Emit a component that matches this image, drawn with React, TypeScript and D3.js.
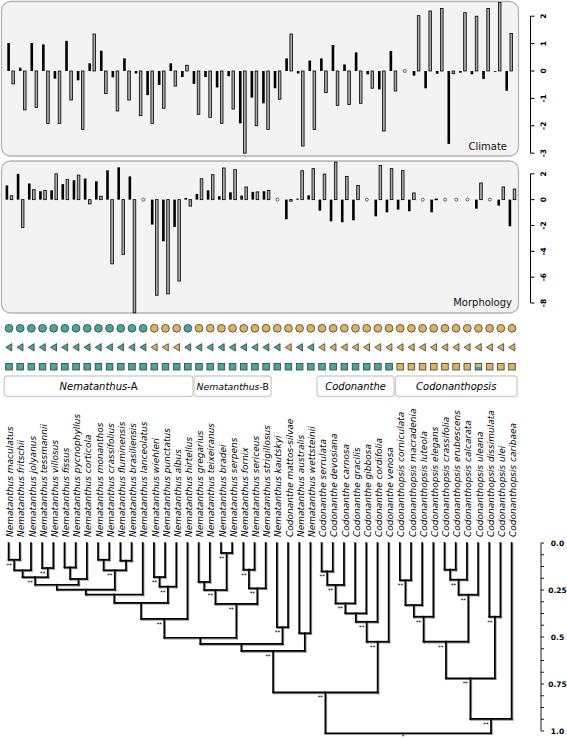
import React from "react";
import * as d3 from "d3";

const species = [
  "Nematanthus maculatus", "Nematanthus fritschii", "Nematanthus jolyanus", "Nematanthus tessmannii",
  "Nematanthus villosus", "Nematanthus fissus", "Nematanthus pycnophyllus", "Nematanthus corticola",
  "Nematanthus monanthos", "Nematanthus crassifolius", "Nematanthus fluminensis", "Nematanthus brasiliensis",
  "Nematanthus lanceolatus", "Nematanthus wiehleri", "Nematanthus punctatus", "Nematanthus albus",
  "Nematanthus hirtellus", "Nematanthus gregarius", "Nematanthus teixeiranus", "Nematanthus bradei",
  "Nematanthus serpens", "Nematanthus fornix", "Nematanthus sericeus", "Nematanthus strigillosus",
  "Nematanthus kautskyi", "Codonanthe mattos-silvae", "Nematanthus australis", "Nematanthus wettsteinii",
  "Codonanthe serrulata", "Codonanthe devosiana", "Codonanthe carnosa", "Codonanthe gracilis",
  "Codonanthe gibbosa", "Codonanthe cordifolia", "Codonanthe venosa", "Codonanthopsis corniculata",
  "Codonanthopsis macradenia", "Codonanthopsis luteola", "Codonanthopsis elegans", "Codonanthopsis crassifolia",
  "Codonanthopsis erubescens", "Codonanthopsis calcarata", "Codonanthopsis uleana", "Codonanthopsis dissimulata",
  "Codonanthopsis ulei", "Codonanthopsis caribaea",
];

// 0 = teal state, 1 = gold state, 2 = both
const circleState = [0,0,0,0,0,0,0,0,0,0,0,0,0,1,1,1,0,1,1,1,1,1,1,1,1,1,1,1,1,1,1,1,1,1,1,1,1,1,1,1,1,1,1,1,1,1];
const triangleState = [0,0,0,0,0,0,0,0,0,0,0,0,0,1,1,1,0,0,0,0,0,0,0,0,0,1,0,0,1,1,1,1,1,1,1,1,1,1,1,1,1,1,1,1,1,1];
const squareState = [0,0,0,0,0,0,0,0,0,0,0,0,0,0,0,0,0,0,0,0,0,0,0,0,0,0,0,0,0,0,0,0,0,0,0,1,1,1,1,1,1,1,2,1,1,1];

// Climate panel (44 slots, null = missing)
const climateBlack = [1.02,0.12,1.02,0.97,-0.28,1.10,-0.34,0.28,0.74,-0.23,0.46,-0.09,-0.88,-0.51,0.28,-0.22,-0.47,-0.22,-0.60,-0.19,-1.91,-0.97,-1.18,-0.63,0.46,-0.09,0.38,0.46,0.95,0.24,0.68,-0.12,-0.67,0.73,null,-0.17,-0.63,-0.10,-2.66,-0.06,-0.12,-0.29,-0.02,-0.72];
const climateGrey = [-0.47,-1.42,-1.33,-1.91,-1.91,-1.06,-2.13,1.35,-0.82,-1.46,-1.06,-1.63,-1.91,-1.36,-0.55,0.21,-1.58,-1.69,-1.91,-1.39,-3.0,-2.0,-2.13,-1.03,1.35,-2.74,-2.13,-0.79,-1.26,-1.22,-1.18,-0.63,-2.19,-0.73,null,2.02,2.19,2.28,-0.10,2.13,2.0,2.28,2.5,1.37];

// Morphology panel (46 slots, null = missing)
const morphBlack = [1.1,2.0,1.25,0.65,0.72,1.2,1.5,1.63,1.42,2.27,2.5,1.8,null,-1.93,-3.22,-2.11,0.13,0.44,0.72,0.26,0.57,0.31,0.6,0.65,null,-1.52,0.08,0.33,-0.85,-1.68,-1.75,-1.6,null,-1.29,-0.98,-0.77,-0.9,null,-0.98,null,null,null,-0.7,null,-0.46,-2.06];
const morphGrey = [0.3,-2.15,0.77,0.7,2.0,1.55,1.9,-0.33,0.26,-4.97,-4.25,-8.76,null,-7.4,-7.3,-6.3,-0.5,1.62,1.93,2.45,2.32,0.98,0.6,0.7,null,-0.12,2.24,2.4,1.98,2.91,1.8,1.1,null,2.65,2.4,2.24,0.52,null,0.05,null,null,null,1.29,null,0.98,0.82];

// Tree clades: [first tip, last tip, age, support]
const clades: [number, number, number, string][] = [
  [1,2,0.089,"**"],[1,3,0.145,""],[4,5,0.133,"**"],[1,5,0.182,"**"],[6,7,0.130,""],[6,8,0.191,""],
  [1,8,0.222,""],[9,10,0.089,""],[11,12,0.094,""],[9,12,0.145,"**"],[1,12,0.248,""],[1,13,0.274,""],
  [14,15,0.181,"**"],[14,16,0.232,"**"],[1,16,0.318,""],[1,17,0.404,"**"],[18,19,0.207,""],[20,21,0.053,"**"],
  [18,21,0.25,"**"],[22,23,0.142,"**"],[22,24,0.241,"**"],[18,24,0.324,"**"],[1,24,0.504,""],[25,26,0.448,"**"],
  [1,26,0.537,""],[27,28,0.48,""],[1,28,0.574,"**"],[29,30,0.151,"**"],[29,31,0.223,"**"],[29,32,0.321,"**"],
  [29,33,0.374,""],[29,34,0.419,"**"],[29,35,0.525,"**"],[1,35,0.795,"**"],[36,37,0.198,"**"],[36,38,0.33,""],
  [36,39,0.392,"**"],[40,41,0.142,""],[40,42,0.195,"**"],[40,43,0.275,"**"],[36,43,0.525,"**"],[44,45,0.392,"**"],
  [36,45,0.72,"**"],[36,46,0.936,"**"],[1,46,1.012,"*"],
];

const cladeGenus = ["Nematanthus", "Nematanthus", "Codonanthe", "Codonanthopsis"];
const cladeSuffix = ["-A", "-B", "", ""];
const cladeFirst = [1, 18, 29, 36];
const cladeLast = [17, 24, 35, 46];

const climateTicks = [2, 1, 0, -1, -2, -3];
const morphTicks = [2, 0, -2, -4, -6, -8];
const treeLabelTicks = [0, 0.25, 0.5, 0.75, 1.0];
const treeLabelText = ["0.0", "0.25", "0.5", "0.75", "1.0"];

const TEAL = "#46a898";
const GOLD = "#dfb35e";
const FONT = "DejaVu Sans";

type TNode = { x: number; age: number; children: TNode[]; support: string };

export default function App() {
  const x = d3.scalePoint<string>().domain(species).range([8.6, 511.6]);
  const cx = d3.scalePoint<number>().domain(d3.range(climateBlack.length)).range([10.9, 509]);
  const cy = d3.scaleLinear().domain([-3, 2]).range([153.2, 16.2]);
  const my = d3.scaleLinear().domain([-8, 2]).range([303, 173.8]);
  const ty = d3.scaleLinear().domain([0, 1]).range([543, 731]);

  // build tree
  const tips: TNode[] = species.map((s) => ({ x: x(s)!, age: 0, children: [], support: "" }));
  const owner = tips.slice();
  const sorted = clades.slice().sort((a, b) => a[1] - a[0] - (b[1] - b[0]));
  const internal: TNode[] = [];
  for (const [a, b, age, sup] of sorted) {
    const kids: TNode[] = [];
    for (let i = a - 1; i <= b - 1; i++) if (!kids.includes(owner[i])) kids.push(owner[i]);
    const node: TNode = { x: (kids[0].x + kids[kids.length - 1].x) / 2, age, children: kids, support: sup };
    for (let i = a - 1; i <= b - 1; i++) owner[i] = node;
    internal.push(node);
  }
  const segs: [number, number, number, number][] = [];
  for (const n of internal) {
    const yN = ty(n.age);
    segs.push([n.children[0].x, yN, n.children[n.children.length - 1].x, yN]);
    for (const c of n.children) segs.push([c.x, ty(c.age), c.x, yN]);
  }

  const bw = 2.6;
  const off = 2.3;

  const barRect = (key: string, xc: number, y0: number, y1: number, black: boolean) => (
    <rect
      key={key}
      x={xc - bw / 2}
      y={Math.min(y0, y1)}
      width={bw}
      height={Math.max(Math.abs(y1 - y0), 0.8)}
      fill={black ? "#000" : "#a8a8a8"}
      stroke="#000"
      strokeWidth={black ? 0 : 0.8}
    />
  );

  const colorOf = (s: number) => (s === 1 ? GOLD : TEAL);

  return (
    <svg width={567} height={739} style={{ position: "absolute", left: 0, top: 0, background: "#fff" }} fontFamily={FONT}>
      {/* Climate panel */}
      <rect x={1.5} y={1.5} width={517} height={154.5} rx={9} fill="#f3f3f3" stroke="#b4b4b4" strokeWidth={1.3} />
      {climateBlack.map((v, i) => {
        const c = cx(i)!;
        const g = climateGrey[i];
        if (v === null || g === null)
          return <circle key={"cc" + i} cx={c} cy={cy(0)} r={1.5} fill="#fff" stroke="#000" strokeWidth={0.6} />;
        return (
          <g key={"c" + i}>
            {barRect("cb" + i, c - off, cy(0), cy(v), true)}
            {barRect("cg" + i, c + off, cy(0), cy(g), false)}
          </g>
        );
      })}
      <text x={507} y={150} textAnchor="end" fontSize={10} fill="#111">Climate</text>
      <line x1={530.5} x2={530.5} y1={cy(2)} y2={cy(-3)} stroke="#000" strokeWidth={1} />
      {climateTicks.map((t) => (
        <g key={"ct" + t}>
          <line x1={530.5} x2={534.5} y1={cy(t)} y2={cy(t)} stroke="#000" strokeWidth={1} />
          <text x={546} y={cy(t)} fontSize={7.5} fontWeight="bold" textAnchor="middle" transform={`rotate(-90, 546, ${cy(t)})`}>
            {String(t)}
          </text>
        </g>
      ))}

      {/* Morphology panel */}
      <rect x={1.5} y={161} width={517} height={152} rx={9} fill="#f3f3f3" stroke="#b4b4b4" strokeWidth={1.3} />
      {species.map((s, i) => {
        const c = x(s)! + 0.6;
        const b = morphBlack[i];
        const g = morphGrey[i];
        if (b === null || g === null)
          return <circle key={"mc" + i} cx={c} cy={my(0)} r={1.5} fill="#fff" stroke="#000" strokeWidth={0.6} />;
        return (
          <g key={"m" + i}>
            {barRect("mb" + i, c - off, my(0), my(b), true)}
            {barRect("mg" + i, c + off, my(0), my(g), false)}
          </g>
        );
      })}
      <text x={512} y={306} textAnchor="end" fontSize={10} fill="#111">Morphology</text>
      <line x1={530.5} x2={530.5} y1={my(2)} y2={my(-8)} stroke="#000" strokeWidth={1} />
      {morphTicks.map((t) => (
        <g key={"mt" + t}>
          <line x1={530.5} x2={534.5} y1={my(t)} y2={my(t)} stroke="#000" strokeWidth={1} />
          <text x={546} y={my(t)} fontSize={7.5} fontWeight="bold" textAnchor="middle" transform={`rotate(-90, 546, ${my(t)})`}>
            {String(t)}
          </text>
        </g>
      ))}

      {/* Character state symbols */}
      {species.map((s, i) => {
        const px = x(s)! + 0.4;
        const tri = `M${px - 3.2},347.3 L${px + 2.8},343.6 L${px + 2.8},351 Z`;
        const sq = squareState[i];
        return (
          <g key={"sym" + i} stroke="#3c3c3c" strokeWidth={0.8}>
            <circle cx={px} cy={328.3} r={3.9} fill={colorOf(circleState[i])} />
            <path d={tri} fill={colorOf(triangleState[i])} />
            {sq === 2 ? (
              <g>
                <rect x={px - 3.3} y={363.4} width={6.6} height={3.3} fill={GOLD} stroke="none" />
                <rect x={px - 3.3} y={366.7} width={6.6} height={3.3} fill={TEAL} stroke="none" />
                <rect x={px - 3.3} y={363.4} width={6.6} height={6.6} fill="none" />
              </g>
            ) : (
              <rect x={px - 3.3} y={363.4} width={6.6} height={6.6} fill={colorOf(sq)} />
            )}
          </g>
        );
      })}

      {/* Clade boxes */}
      {cladeGenus.map((g, i) => {
        const x0 = x(species[cladeFirst[i] - 1])! - 4.5;
        const x1 = x(species[cladeLast[i] - 1])! + 5.5;
        return (
          <g key={"cl" + i}>
            <rect x={x0} y={376} width={x1 - x0} height={20.5} rx={3} fill="#fff" stroke="#cfcfcf" strokeWidth={1.3} />
            <text x={(x0 + x1) / 2} y={389.5} textAnchor="middle" fontSize={i === 1 ? 9.3 : 10} fill="#000">
              <tspan fontStyle="italic">{g}</tspan>
              {cladeSuffix[i] && <tspan>{cladeSuffix[i]}</tspan>}
            </text>
          </g>
        );
      })}

      {/* Species labels */}
      {species.map((s) => {
        const lx = x(s)! + 4.6;
        return (
          <text key={"lab" + s} x={lx} y={537} textAnchor="start" fontSize={9} fontStyle="italic" transform={`rotate(-90, ${lx}, 537)`}>
            {s}
          </text>
        );
      })}

      {/* Tree */}
      <g strokeLinecap="square">
        {segs.map((d, i) => (
          <line key={"sh" + i} x1={d[0] + 0.9} y1={d[1] + 0.9} x2={d[2] + 0.9} y2={d[3] + 0.9} stroke="#9a9a9a" strokeWidth={1.7} />
        ))}
        {segs.map((d, i) => (
          <line key={"sg" + i} x1={d[0]} y1={d[1]} x2={d[2]} y2={d[3]} stroke="#000" strokeWidth={1.7} />
        ))}
      </g>
      {internal.filter((n) => n.support).map((n, i) => (
        <text key={"sup" + i} x={n.x - 5} y={Math.min(ty(n.age) + 7, 737.5)} fontSize={5} fontWeight="bold" textAnchor="middle">
          {n.support}
        </text>
      ))}

      {/* Tree axis */}
      <line x1={541} x2={541} y1={ty(0)} y2={ty(1)} stroke="#000" strokeWidth={0.9} />
      {d3.range(0, 1.0001, 0.0625).map((t) => (
        <line key={"tt" + t} x1={541} x2={544} y1={ty(t)} y2={ty(t)} stroke="#000" strokeWidth={0.9} />
      ))}
      {treeLabelTicks.map((t, i) => (
        <text key={"tl" + t} x={557.5} y={ty(t) + 2.7} textAnchor="middle" fontSize={7.5} fontWeight="bold">
          {treeLabelText[i]}
        </text>
      ))}
    </svg>
  );
}
